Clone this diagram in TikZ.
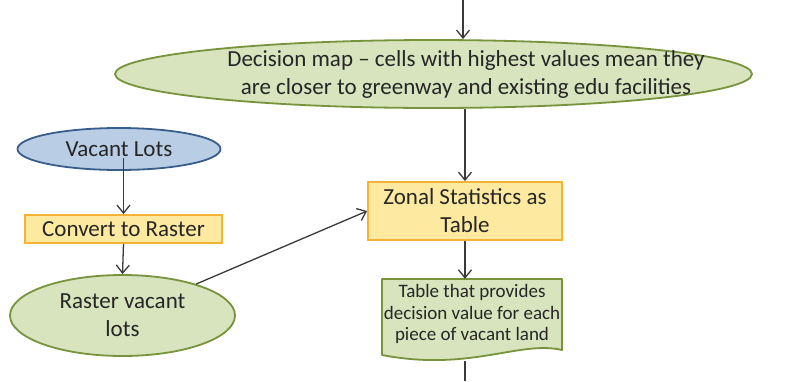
\documentclass[tikz,border=0pt]{standalone}
\usepackage{fontspec}
\setmainfont{Carlito}
\usetikzlibrary{shapes.geometric,arrows.meta}
\definecolor{gfill}{HTML}{D7E4BD}
\definecolor{gline}{HTML}{77933C}
\definecolor{bfill}{HTML}{B9CDE5}
\definecolor{bline}{HTML}{385D8A}
\definecolor{ofill}{HTML}{FDE9A0}
\definecolor{oline}{HTML}{F4B335}
\definecolor{txt}{HTML}{262626}
\definecolor{arrc}{HTML}{3A3A3A}
\tikzset{
  gell/.style={ellipse,draw=gline,fill=gfill,line width=1.8pt,inner sep=0pt},
  bell/.style={ellipse,draw=bline,fill=bfill,line width=1.8pt,inner sep=0pt},
  obox/.style={rectangle,draw=oline,fill=ofill,line width=1.8pt,inner sep=0pt,align=center,text=txt},
  tx/.style={align=center,text=txt,inner sep=0pt},
  arr/.style={draw=arrc,line width=1.3pt,-{Straight Barb[length=8pt,width=13pt,line width=1.3pt]}},
  ln/.style={draw=arrc,line width=1.3pt},
  big/.style={font=\fontsize{23}{28}\selectfont},
  small/.style={font=\fontsize{19}{21.5}\selectfont},
}
\begin{document}
\begin{tikzpicture}[x=1pt,y=-1pt]
\useasboundingbox (0,0) rectangle (811,381);
\node[gell,minimum width=637,minimum height=68] (main) at (433.5,74) {};
\node[tx,big] (maintext) at (466,74) {Decision map -- cells with highest values mean they\\are closer to greenway and existing edu facilities};
\node[bell,minimum width=203,minimum height=42] (vac) at (119,149) {};
\node[tx,big] (vactext) at (vac.center) {Vacant Lots};
\node[obox,big,minimum width=197,minimum height=28] (conv) at (123.5,229) {Convert to Raster};
\node[gell,minimum width=225,minimum height=81] (ras) at (122.5,315.5) {};
\node[tx,big] (rastext) at (ras.center) {Raster vacant\\lots};
\node[obox,big,minimum width=194,minimum height=58] (zon) at (465,211) {Zonal Statistics as\\Table};
\node[rectangle,minimum width=180,minimum height=76,inner sep=0pt] (doc) at (472,317) {};
\fill[gfill] (382,279) -- (562,279) -- (562,350) .. controls (520,340) and (470,372) .. (382,355) -- cycle;
\draw[gline,line width=1.8pt,line join=round] (382,279) -- (562,279) -- (562,350) .. controls (520,340) and (470,372) .. (382,355) -- cycle;
\node[small,tx] (doctext) at (doc.center) [yshift=3pt] {Table that provides\\decision value for each\\piece of vacant land};
\coordinate (top) at (463,0);
\coordinate (bot) at (465,381);
\coordinate (dbot) at (465,361);
\draw[arr] (top) -- (top |- main.north);
\draw[arr] (main.south -| zon.north) -- (zon.north);
\draw[arr] (zon.south) -- (zon.south |- doc.north);
\draw[ln] (dbot) -- (bot);
\draw[arr] ([yshift=-9pt]vac.center -| conv.north) -- (conv.north);
\draw[arr] (conv.south) -- (ras.north);
\draw[arr] (ras) -- (zon.west);
\end{tikzpicture}
\end{document}
